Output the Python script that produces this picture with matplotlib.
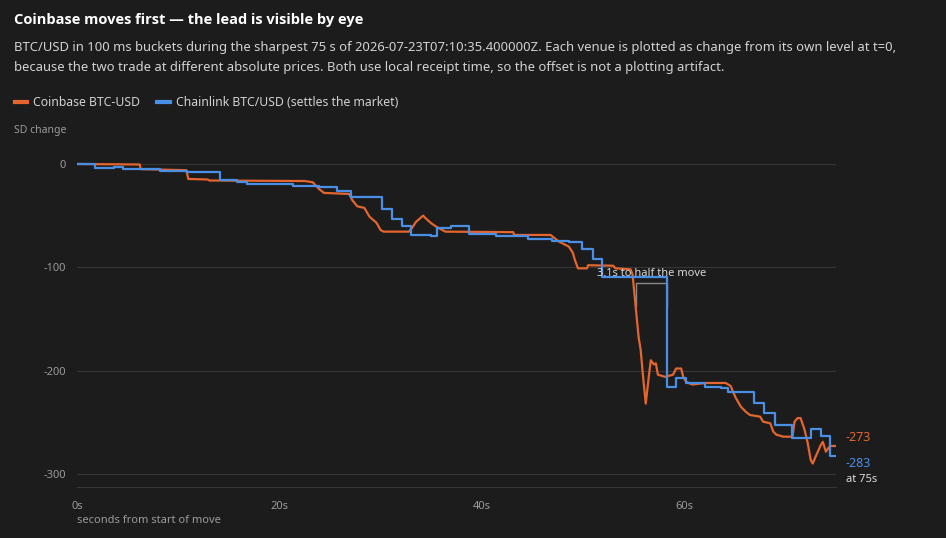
import matplotlib
matplotlib.use("Agg")
import matplotlib.pyplot as plt

# change from t=0 level (t in s, value in SD)
coinbase = [(0, 0), (6.2, -0.5), (6.3, -5), (10.8, -6), (11.0, -14.5), (12.9, -15),
            (13.1, -16), (22.5, -16.5), (23.3, -17.7), (23.6, -21), (23.9, -24),
            (24.4, -28), (26.9, -29), (27.2, -35), (27.7, -41), (28.4, -42.5),
            (28.9, -51), (29.6, -57), (30.0, -64), (30.3, -65.5), (32.8, -65.5),
            (33.1, -62), (33.5, -56), (34.2, -50), (34.5, -53), (35.0, -57.4),
            (35.5, -60.7), (36.4, -65.5), (43.1, -66), (43.2, -68.7), (46.8, -68.7),
            (47.6, -75), (48.6, -80), (49.0, -86), (49.2, -93), (49.5, -101),
            (50.4, -101), (50.5, -98), (53.0, -98.5), (53.2, -101), (54.7, -102),
            (54.9, -107), (55.3, -148), (55.5, -168), (55.7, -180), (55.9, -202),
            (56.2, -232), (56.5, -206), (56.7, -190), (57.0, -194), (57.2, -193),
            (57.4, -204), (58.1, -206), (58.9, -204), (59.2, -198), (59.7, -198),
            (59.9, -206), (60.2, -211), (60.8, -213.5), (62.1, -212), (64.1, -212),
            (64.6, -215), (64.8, -220), (65.1, -226.5), (65.6, -235), (66.1, -240),
            (66.5, -243), (67.5, -244.6), (67.8, -249.5), (68.5, -251), (68.8, -259),
            (69.1, -262), (69.8, -264), (70.7, -264), (70.9, -249.5), (71.2, -246),
            (71.5, -246), (71.9, -257.5), (72.2, -270), (72.5, -286.5), (72.7, -290),
            (73.0, -283), (73.5, -272), (73.7, -269), (74.0, -278.5), (74.4, -273),
            (75.0, -273)]

# chainlink updates are steps
chainlink = [(0, 0), (1.8, -4), (3.7, -2.5), (4.5, -5), (8.2, -6.5), (10.9, -8),
             (14.1, -15.5), (15.8, -17.7), (16.8, -19.7), (21.3, -21.3), (23.9, -22.6),
             (25.7, -26), (27.1, -32), (30.1, -44), (31.1, -53.5), (32.1, -60),
             (33.0, -69), (35.0, -70), (35.6, -62), (37.0, -60), (38.7, -68),
             (41.4, -69.4), (44.6, -73), (46.9, -75), (48.6, -76), (49.9, -82.5),
             (51.0, -92), (51.9, -109), (58.3, -215.5), (59.2, -207.5), (60.2, -211.7),
             (62.1, -215.5), (63.6, -217), (64.3, -221), (66.9, -231.7), (67.9, -240.7),
             (69.0, -252.7), (70.7, -265.5), (72.5, -256.8), (73.5, -263.3),
             (74.4, -282.7), (75.0, -283)]

half_move_t = [55.2, 58.3]   # coinbase, chainlink
half_level = -137
bracket_top = -115
lead_s = 3.1

xticks = [0, 20, 40, 60]
xtick_labels = ["0s", "20s", "40s", "60s"]
yticks = [0, -100, -200, -300]
ytick_labels = ["0", "-100", "-200", "-300"]

BG = "#1c1c1c"
ORANGE = "#e4652e"
BLUE = "#4a8fe6"
GRID = "#363636"
MUTED = "#9a9a9a"

plt.rcParams["font.family"] = ["Noto Sans", "DejaVu Sans"]

W, H = 946, 538
fig = plt.figure(figsize=(W / 100, H / 100), dpi=100, facecolor=BG)
ax = fig.add_axes([77 / W, 1 - 487 / H, 759 / W, 332 / H], facecolor=BG)

cb_t = [p[0] for p in coinbase]
cb_v = [p[1] for p in coinbase]
cl_t = [p[0] for p in chainlink]
cl_v = [p[1] for p in chainlink]

ax.plot(cb_t, cb_v, color=ORANGE, lw=1.6, label="Coinbase BTC-USD", zorder=3)
ax.plot(cl_t, cl_v, color=BLUE, lw=1.6, drawstyle="steps-post",
        label="Chainlink BTC/USD (settles the market)", zorder=3)

ax.set_xlim(0, 75)
ax.set_ylim(-312.7, 8.7)
ax.set_xticks(xticks)
ax.set_xticklabels(xtick_labels)
ax.set_yticks(yticks)
ax.set_yticklabels(ytick_labels)
ax.tick_params(length=0, colors=MUTED, labelsize=8, pad=8)
ax.tick_params(axis="x", pad=10)
ax.grid(axis="y", color=GRID, lw=0.8)
for s in ["top", "right", "left"]:
    ax.spines[s].set_visible(False)
ax.spines["bottom"].set_color(GRID)
ax.set_xlabel("seconds from start of move", loc="left", color=MUTED, fontsize=8, labelpad=2)

# bracket between the two half-move crossings
t0, t1 = half_move_t
ax.plot([t0, t0, t1, t1], [half_level, bracket_top, bracket_top, half_level],
        color="#8a8a8a", lw=1, zorder=2)
ax.text((t0 + t1) / 2, bracket_top + 9, f"{lead_s}s to half the move", color="#d6d6d6",
        fontsize=8, ha="center", va="center", zorder=4)

# end labels
ax.annotate(f"{cb_v[-1]:.0f}", xy=(75, cb_v[-1]), xytext=(7, 6), textcoords="offset points",
            color=ORANGE, fontsize=9, va="center", annotation_clip=False)
ax.annotate(f"{cl_v[-1]:.0f}", xy=(75, cl_v[-1]), xytext=(7, -5), textcoords="offset points",
            color=BLUE, fontsize=9, va="center", annotation_clip=False)
ax.annotate("at 75s", xy=(75, cl_v[-1]), xytext=(7, -17), textcoords="offset points",
            color="#dcdcdc", fontsize=8, va="center", annotation_clip=False)

fig.text(14 / W, 1 - 20 / H, "Coinbase moves first \u2014 the lead is visible by eye",
         color="white", fontsize=10.5, fontweight="bold", va="center",
         family=["Open Sans", "Lato", "DejaVu Sans"])
fig.text(14 / W, 1 - 47 / H,
         "BTC/USD in 100 ms buckets during the sharpest 75 s of 2026-07-23T07:10:35.400000Z. "
         "Each venue is plotted as change from its own level at t=0,",
         color="#d2d2d2", fontsize=9.4, va="center")
fig.text(14 / W, 1 - 68 / H,
         "because the two trade at different absolute prices. Both use local receipt time, "
         "so the offset is not a plotting artifact.",
         color="#d2d2d2", fontsize=9.4, va="center")
fig.text(14 / W, 1 - 130 / H, "SD change", color=MUTED, fontsize=7.5, va="center")

leg = fig.legend(loc="center left", bbox_to_anchor=(15 / W, 1 - 103 / H), ncol=2,
                 frameon=False, fontsize=8.8, handlelength=1.0, handletextpad=0.5,
                 columnspacing=1.4, borderaxespad=0, borderpad=0)
for h in leg.legend_handles:
    h.set_linewidth(3)
for t in leg.get_texts():
    t.set_color("#d2d2d2")

fig.savefig("out.png", dpi=100, facecolor=BG)
